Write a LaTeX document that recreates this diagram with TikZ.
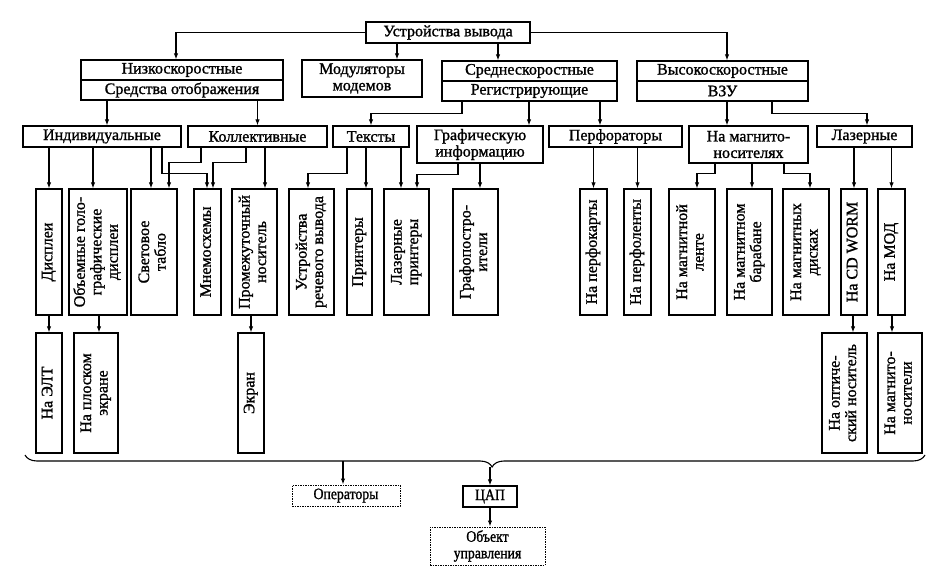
\documentclass[tikz,border=0pt]{standalone}
\usepackage{fontspec}
\setmainfont{Liberation Serif}[FakeBold=1.2]
\newfontfamily\narrowfont{Liberation Serif}[FakeBold=1.2, FakeStretch=0.86]
\usepackage{graphicx}
\usepackage{tikz}
\usetikzlibrary{arrows.meta, decorations.pathreplacing}

\newcommand{\vtxt}[1]{\rotatebox{90}{\begin{tabular}{@{}c@{}}#1\end{tabular}}}

\begin{document}
\begin{tikzpicture}[
  x=1pt, y=-1pt,
  every node/.style={font=\fontsize{16}{16.5}\selectfont},
  box/.style={draw, line width=1.3pt, inner sep=0.5pt, align=center},
  vbox/.style={box, minimum height=126pt},
  dbox/.style={box, line width=1pt, dash pattern=on 1.5pt off 1pt,
    font=\fontsize{16}{16.5}\selectfont\narrowfont},
  arrow/.style={-{Latex[length=6pt,width=4.5pt]}, line width=1.1pt}
]
\path[use as bounding box, fill=white] (0,0) rectangle (936,577);

% top
\node[box, minimum width=164pt, minimum height=21pt] (out) at (448,32.5) {Устройства вывода};

% speed groups
\node[box, minimum width=202pt, minimum height=20pt] (slow) at (182,70) {Низкоскоростные};
\node[box, minimum width=202pt, minimum height=20pt] (slowsub) at (182,90) {Средства отображения};
\node[box, minimum width=120pt, minimum height=37pt] (mod) at (362,78.5) {Модуляторы\\модемов};
\node[box, minimum width=175pt, minimum height=20pt] (mid) at (529.5,71) {Среднескоростные};
\node[box, minimum width=175pt, minimum height=20pt] (midsub) at (529.5,91) {Регистрирующие};
\node[box, minimum width=171pt, minimum height=20pt] (fast) at (722.5,71) {Высокоскоростные};
\node[box, minimum width=171pt, minimum height=20pt] (fastsub) at (722.5,91) {ВЗУ};

% second row
\node[box, minimum width=158pt, minimum height=21pt] (ind) at (102,136.5) {Индивидуальные};
\node[box, minimum width=139pt, minimum height=21pt] (coll) at (257.5,136.5) {Коллективные};
\node[box, minimum width=76pt, minimum height=21pt] (txt) at (371,136.5) {Тексты};
\node[box, minimum width=126pt, minimum height=37pt] (graph) at (480,144.5) {Графическую\\информацию};
\node[box, minimum width=133pt, minimum height=21pt] (punch) at (615.5,136.5) {Перфораторы};
\node[box, minimum width=119pt, minimum height=37pt] (magn) at (748.5,144.5) {На магнито-\\носителях};
\node[box, minimum width=95pt, minimum height=21pt] (laser) at (864.5,136.5) {Лазерные};

% devices
\node[vbox, minimum width=26pt] (disp) at (49,252) {\vtxt{Дисплеи}};
\node[vbox, minimum width=58pt] (holo) at (98,252) {\vtxt{Объемные голо-\\графические\\дисплеи}};
\node[vbox, minimum width=46pt] (board) at (154,252) {\vtxt{Световое\\табло}};
\node[vbox, minimum width=27pt] (mnem) at (207.5,252) {\vtxt{Мнемосхемы}};
\node[vbox, minimum width=45pt] (media) at (254.5,252) {\vtxt{Промежуточный\\носитель}};
\node[vbox, minimum width=45pt] (voice) at (311.5,252) {\vtxt{Устройства\\речевого вывода}};
\node[vbox, minimum width=25pt] (print) at (359.5,252) {\vtxt{Принтеры}};
\node[vbox, minimum width=45pt] (lprint) at (406.5,252) {\vtxt{Лазерные\\принтеры}};
\node[vbox, minimum width=45pt] (plot) at (475.5,252) {\vtxt{Графопостро-\\ители}};
\node[vbox, minimum width=27pt] (card) at (593.5,252) {\vtxt{На перфокарты}};
\node[vbox, minimum width=27pt] (tape) at (637.5,252) {\vtxt{На перфоленты}};
\node[vbox, minimum width=46pt] (mtape) at (692,252) {\vtxt{На магнитной\\ленте}};
\node[vbox, minimum width=45pt] (drum) at (749.5,252) {\vtxt{На магнитном\\барабане}};
\node[vbox, minimum width=46pt] (disk) at (806,252) {\vtxt{На магнитных\\дисках}};
\node[vbox, minimum width=26pt] (worm) at (854,252) {\vtxt{На CD WORM}};
\node[vbox, minimum width=27pt] (mo) at (891.5,252) {\vtxt{На МОД}};

% carriers
\node[vbox, minimum width=26pt, minimum height=120pt] (crt) at (49,393) {\vtxt{На ЭЛТ}};
\node[vbox, minimum width=44pt, minimum height=120pt] (flat) at (96,393) {\vtxt{На плоском\\экране}};
\node[vbox, minimum width=26pt, minimum height=120pt] (screen) at (251,393) {\vtxt{Экран}};
\node[vbox, minimum width=45pt, minimum height=120pt] (optic) at (844.5,393) {\vtxt{На оптиче-\\ский носитель}};
\node[vbox, minimum width=44pt, minimum height=120pt] (mcarrier) at (900,393) {\vtxt{На магнито-\\носители}};

% receivers
\node[dbox, minimum width=108pt, minimum height=21pt] (ops) at (346,495.5) {Операторы};
\node[box, minimum width=54pt, minimum height=21pt, font=\fontsize{16}{16.5}\selectfont\narrowfont] (dac) at (490,496.5) {ЦАП};
\node[dbox, minimum width=115pt, minimum height=38pt] (plant) at (487.5,546) {Объект\\управления};

% top level
\draw[arrow] (out.west) -| ([xshift=-6pt]slow.north);
\draw[arrow] ([xshift=35pt]mod.north |- out.south) -- ([xshift=35pt]mod.north);
\draw[arrow] ([xshift=-31.5pt]mid.north |- out.south) -- ([xshift=-31.5pt]mid.north);
\draw[arrow] (out.east) -| ([xshift=4.5pt]fast.north);

% second level
\draw[arrow] ([xshift=5pt]ind.north |- slowsub.south) -- ([xshift=5pt]ind.north);
\draw[arrow] (coll.north |- slowsub.south) -- (coll.north);
\draw[arrow] ([xshift=-67.5pt]midsub.south) -- ++(0,12) -| (txt.north);
\draw[arrow] ([xshift=49pt]graph.north |- midsub.south) -- ([xshift=49pt]graph.north);
\draw[arrow] ([xshift=-15.5pt]punch.north |- midsub.south) -- ([xshift=-15.5pt]punch.north);
\draw[arrow] ([xshift=-21.5pt]magn.north |- fastsub.south) -- ([xshift=-21.5pt]magn.north);
\draw[arrow] ([xshift=49.5pt]fastsub.south) -- ++(0,12) -| ([xshift=2.5pt]laser.north);

% third level
\draw[arrow] (disp.north |- ind.south) -- (disp.north);
\draw[arrow] ([xshift=-5pt]holo.north |- ind.south) -- ([xshift=-5pt]holo.north);
\draw[arrow] ([xshift=-3pt]board.north |- ind.south) -- ([xshift=-3pt]board.north);
\draw[arrow] ([xshift=60pt]ind.south) -- ++(0,26) -| ([xshift=-0.5pt]mnem.north);
\draw[arrow] ([xshift=-56.5pt]coll.south) -- ++(0,15) -| ([xshift=15pt]board.north);
\draw[arrow] ([xshift=-11.5pt]coll.south) -- ++(0,15) -| ([xshift=5.5pt]mnem.north);
\draw[arrow] ([xshift=10.5pt]media.north |- coll.south) -- ([xshift=10.5pt]media.north);
\draw[arrow] ([xshift=-24pt]txt.south) -- ++(0,26) -| ([xshift=-3.5pt]voice.north);
\draw[arrow] ([xshift=6.5pt]print.north |- txt.south) -- ([xshift=6.5pt]print.north);
\draw[arrow] ([xshift=-5.5pt]lprint.north |- txt.south) -- ([xshift=-5.5pt]lprint.north);
\draw[arrow] ([xshift=-22pt]graph.south) -- ++(0,11) -| ([xshift=10.5pt]lprint.north);
\draw[arrow] ([xshift=4.5pt]plot.north |- graph.south) -- ([xshift=4.5pt]plot.north);
\draw[arrow] (card.north |- punch.south) -- (card.north);
\draw[arrow] (tape.north |- punch.south) -- (tape.north);
\draw[arrow] ([xshift=-33.5pt]magn.south) -- ++(0,10) -| ([xshift=5pt]mtape.north);
\draw[arrow] ([xshift=2.5pt]drum.north |- magn.south) -- ([xshift=2.5pt]drum.north);
\draw[arrow] ([xshift=35.5pt]magn.south) -- ++(0,10) -| ([xshift=4pt]disk.north);
\draw[arrow] (worm.north |- laser.south) -- (worm.north);
\draw[arrow] (mo.north |- laser.south) -- (mo.north);

% fourth level
\draw[arrow] (crt.north |- disp.south) -- (crt.north);
\draw[arrow] ([xshift=3pt]flat.north |- holo.south) -- ([xshift=3pt]flat.north);
\draw[arrow] (screen.north |- media.south) -- (screen.north);
\draw[arrow] ([xshift=8.5pt]optic.north |- worm.south) -- ([xshift=8.5pt]optic.north);
\draw[arrow] ([xshift=-8pt]mcarrier.north |- mo.south) -- ([xshift=-8pt]mcarrier.north);

% all outputs
\draw[line width=1.1pt, decorate, decoration={brace, amplitude=12pt, aspect=0.481}] (925,455) -- (25,455);
\coordinate (opsin) at (343,461);
\coordinate (tip) at (490,467);
\draw[arrow] (opsin) -- (opsin |- ops.north);
\draw[arrow] (tip) -- (tip |- dac.north);
\draw[arrow] (dac.south) -- (dac.south |- plant.north);

\end{tikzpicture}
\end{document}
